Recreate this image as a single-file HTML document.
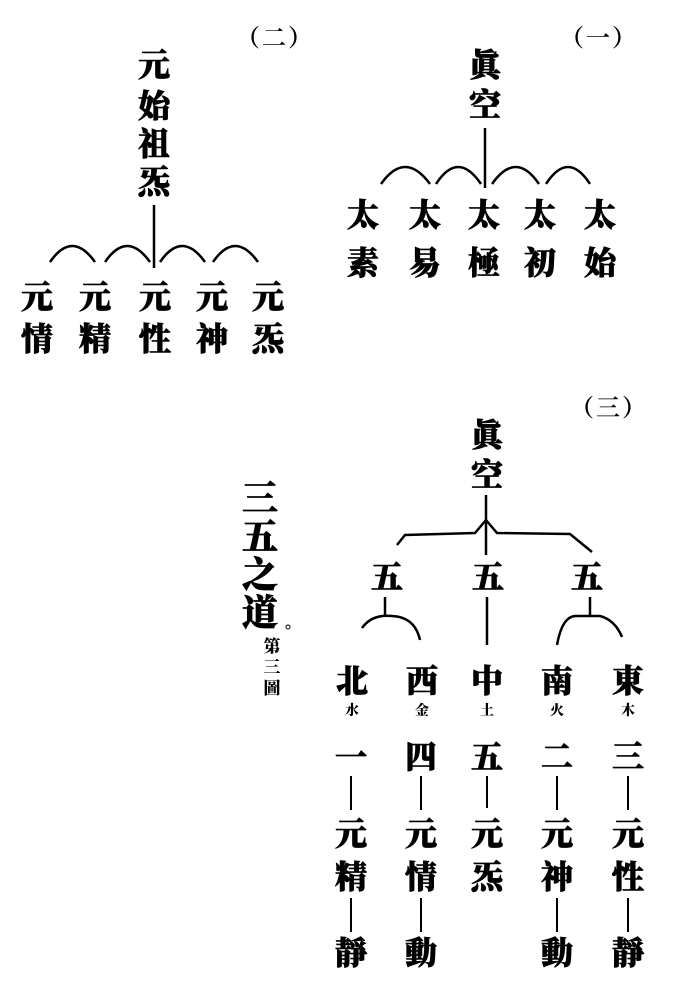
<!DOCTYPE html>
<html><head><meta charset="utf-8"><style>
html,body{margin:0;padding:0;background:#fff;}
body{width:681px;height:1004px;position:relative;overflow:hidden;font-family:"Liberation Serif","Noto Serif CJK SC","Noto Sans CJK SC",serif;font-weight:900;color:#000;}
.c{position:absolute;width:40px;text-align:center;font-size:32px;line-height:34px;-webkit-text-stroke:0.7px #000;}
.s{position:absolute;width:20px;text-align:center;font-size:14px;line-height:16px;}
svg{position:absolute;left:0;top:0;}
</style></head><body>
<svg width="681" height="1004" fill="none" stroke="#000" stroke-width="2.5">
<line x1="154" y1="205" x2="154" y2="268"/>
<path d="M50 262 Q72 230 95 262 M105 262 Q127 230 150 262 M160 262 Q182 230 205 262 M213 262 Q235 230 258 262"/>
<line x1="485" y1="128" x2="485" y2="188"/>
<path d="M381 184 Q405 150 430 184 M436 184 Q458 150 481 184 M492 184 Q516 150 539 184 M546 184 Q568 150 590 184"/>
<line x1="486" y1="495" x2="486" y2="555"/>
<path d="M397 545 L405 535 L475 533 L486 520 L497 533 L570 534 L592 552"/>
<line x1="385" y1="597" x2="385" y2="616"/>
<path d="M362 628 Q372 614 392 616 Q415 617 420 640"/>
<line x1="487" y1="597" x2="487" y2="645"/>
<line x1="590" y1="597" x2="590" y2="616"/>
<path d="M557 645 Q562 617 575 616 L600 616 Q615 620 622 637"/>
<g stroke-width="2">
<line x1="351" y1="776" x2="351" y2="810"/>
<line x1="421" y1="776" x2="421" y2="810"/>
<line x1="487" y1="776" x2="487" y2="808"/>
<line x1="557" y1="776" x2="557" y2="810"/>
<line x1="628" y1="776" x2="628" y2="810"/>
<line x1="351" y1="898" x2="351" y2="932"/>
<line x1="421" y1="898" x2="421" y2="932"/>
<line x1="557" y1="898" x2="557" y2="932"/>
<line x1="628" y1="898" x2="628" y2="932"/>
</g>
<circle cx="288" cy="627" r="2" stroke-width="1"/>
</svg>

<div style="position:absolute;left:236px;top:18px;font-size:24px;font-weight:700;letter-spacing:2px;">（二）</div>
<div class="c" style="left:134px;top:48px">元</div>
<div class="c" style="left:134px;top:89px">始</div>
<div class="c" style="left:134px;top:127px">祖</div>
<div class="c" style="left:134px;top:165px">炁</div>
<div class="c" style="left:17px;top:280px">元</div><div class="c" style="left:17px;top:322px">情</div>
<div class="c" style="left:75px;top:280px">元</div><div class="c" style="left:75px;top:322px">精</div>
<div class="c" style="left:135px;top:280px">元</div><div class="c" style="left:135px;top:322px">性</div>
<div class="c" style="left:192px;top:280px">元</div><div class="c" style="left:192px;top:322px">神</div>
<div class="c" style="left:248px;top:280px">元</div><div class="c" style="left:248px;top:322px">炁</div>

<div style="position:absolute;left:560px;top:18px;font-size:24px;font-weight:700;letter-spacing:2px;">（一）</div>
<div class="c" style="left:465px;top:48px">眞</div>
<div class="c" style="left:465px;top:88px">空</div>
<div class="c" style="left:343px;top:198px">太</div><div class="c" style="left:343px;top:246px">素</div>
<div class="c" style="left:405px;top:198px">太</div><div class="c" style="left:405px;top:246px">易</div>
<div class="c" style="left:464px;top:198px">太</div><div class="c" style="left:464px;top:246px">極</div>
<div class="c" style="left:520px;top:198px">太</div><div class="c" style="left:520px;top:246px">初</div>
<div class="c" style="left:580px;top:198px">太</div><div class="c" style="left:580px;top:246px">始</div>

<div style="position:absolute;left:570px;top:388px;font-size:24px;font-weight:700;letter-spacing:2px;">（三）</div>
<div class="c" style="left:467px;top:418px">眞</div>
<div class="c" style="left:467px;top:458px">空</div>
<div class="c" style="left:367px;top:560px">五</div>
<div class="c" style="left:468px;top:560px">五</div>
<div class="c" style="left:567px;top:560px">五</div>

<div class="c" style="left:332px;top:664px">北</div><div class="s" style="left:342px;top:704px">水</div>
<div class="c" style="left:402px;top:664px">西</div><div class="s" style="left:412px;top:704px">金</div>
<div class="c" style="left:467px;top:664px">中</div><div class="s" style="left:477px;top:704px">土</div>
<div class="c" style="left:537px;top:664px">南</div><div class="s" style="left:547px;top:704px">火</div>
<div class="c" style="left:608px;top:664px">東</div><div class="s" style="left:618px;top:704px">木</div>

<div class="c" style="left:331px;top:740px">一</div>
<div class="c" style="left:401px;top:740px">四</div>
<div class="c" style="left:467px;top:740px">五</div>
<div class="c" style="left:537px;top:740px">二</div>
<div class="c" style="left:608px;top:740px">三</div>

<div class="c" style="left:331px;top:817px">元</div><div class="c" style="left:331px;top:860px">精</div>
<div class="c" style="left:401px;top:817px">元</div><div class="c" style="left:401px;top:860px">情</div>
<div class="c" style="left:467px;top:817px">元</div><div class="c" style="left:467px;top:860px">炁</div>
<div class="c" style="left:537px;top:817px">元</div><div class="c" style="left:537px;top:860px">神</div>
<div class="c" style="left:608px;top:817px">元</div><div class="c" style="left:608px;top:860px">性</div>

<div class="c" style="left:331px;top:936px">靜</div>
<div class="c" style="left:401px;top:936px">動</div>
<div class="c" style="left:537px;top:936px">動</div>
<div class="c" style="left:608px;top:936px">靜</div>

<div class="c" style="left:240px;top:480px;font-size:36px;line-height:38px">三</div>
<div class="c" style="left:240px;top:518px;font-size:36px;line-height:38px">五</div>
<div class="c" style="left:240px;top:556px;font-size:36px;line-height:38px">之</div>
<div class="c" style="left:240px;top:594px;font-size:36px;line-height:38px">道</div>
<div style="position:absolute;left:262px;top:636px;width:20px;font-size:17px;line-height:21px;text-align:center;">第<br>三<br>圖</div>
</body></html>
